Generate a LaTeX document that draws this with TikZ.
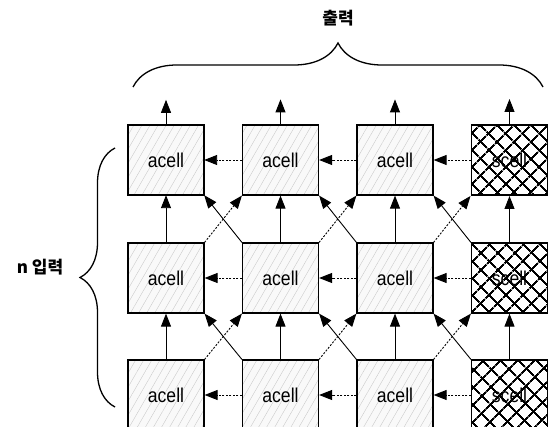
\documentclass[tikz,border=0pt]{standalone}
\usepackage{fontspec}
\setmainfont{Liberation Sans}
\newfontfamily\cellfont{Liberation Sans}[FakeStretch=0.88]
\newfontfamily\krfont{Noto Sans CJK KR}
\usetikzlibrary{arrows.meta,patterns.meta,decorations.pathreplacing}

\begin{document}
\begin{tikzpicture}[x=1pt, y=-1pt,
    cellbox/.style={draw, line width=1.2pt, minimum width=76pt, minimum height=70pt,
      inner sep=0pt, font=\cellfont\fontsize{20}{22}\selectfont},
    acellbox/.style={cellbox, preaction={fill=gray!5},
      pattern={Lines[angle=60,distance=7pt,line width=0.35pt]}, pattern color=gray!45},
    scellbox/.style={cellbox, fill=white,
      preaction={pattern={Lines[angle=45,distance=13pt,line width=2pt]}},
      pattern={Lines[angle=-45,distance=13pt,line width=2pt]}},
    flow/.style={line width=0.9pt, -{Triangle[length=13pt,width=10pt]}},
    dflow/.style={flow, dash pattern=on 2pt off 1.5pt},
    label/.style={font=\krfont\bfseries\fontsize{17}{19}\selectfont}]
  \useasboundingbox (0,0) rectangle (548,427);
  \begin{scope}
    \clip (0,0) rectangle (548,427);
    % cells
    \foreach \r/\y in {1/160,2/278,3/395} {
      \foreach \c/\x in {1/166,2/280.5,3/395}
        \node[acellbox] (c\r\c) at (\x,\y) {acell};
      \node[scellbox] (c\r4) at (509.5,\y) {scell};
    }
    % horizontal links, right to left
    \foreach \r in {1,2,3}
      \foreach \c/\d in {1/2,2/3,3/4}
        \draw[dflow] (c\r\d) -- (c\r\c);
    % vertical links, up
    \foreach \r/\s in {1/2,2/3}
      \foreach \c in {1,...,4}
        \draw[flow] (c\s\c) -- (c\r\c);
    % crossing links
    \foreach \r/\s in {1/2,2/3}
      \foreach \c/\d in {1/2,2/3,3/4} {
        \draw[flow] (c\s\d.north west) -- (c\r\c.south east);
        \draw[dflow] (c\s\c.north east) -- (c\r\d.south west);
      }
  \end{scope}
  % outputs
  \foreach \c in {1,...,4} {
    \path (c1\c.north) ++(0,-25) coordinate (o\c);
    \draw[flow] (c1\c) -- (o\c);
  }
  % braces
  \draw[line width=1.3pt, decorate, decoration={brace, amplitude=44pt}]
    (133,87) -- (543,87);
  \node[label] (out) at (338,18) {출력};
  \draw[line width=1.3pt, decorate, decoration={brace, amplitude=35pt}]
    (115,407) -- (115,148);
  \node[label] (in) at (40,267) {n 입력};
\end{tikzpicture}
\end{document}
